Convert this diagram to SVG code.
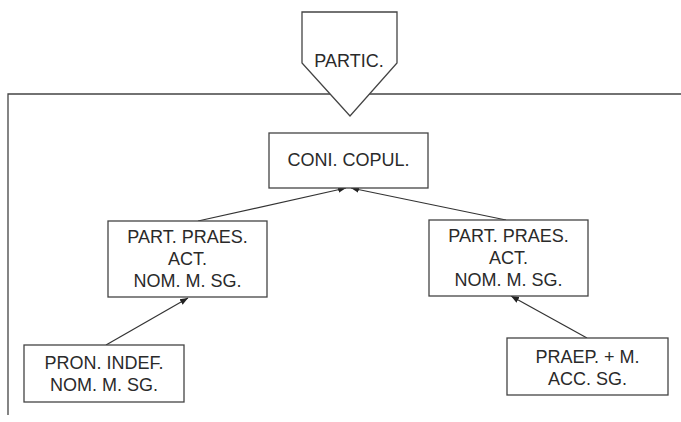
<svg xmlns="http://www.w3.org/2000/svg" width="681" height="422" viewBox="0 0 681 422">
<defs>
<style>
.box{fill:#fff;stroke:#444;stroke-width:1.3}
.frame{fill:none;stroke:#444;stroke-width:1.3}
.t{font-family:"Liberation Sans",Arial,sans-serif;font-size:18px;fill:#2a2a2a;text-anchor:middle}
.c{stroke:#333;stroke-width:1.2;fill:none;marker-end:url(#ah)}
</style>
<marker id="ah" viewBox="0 0 10 10" refX="10" refY="5" markerWidth="8" markerHeight="8" markerUnits="userSpaceOnUse" orient="auto">
<path d="M0,1 L10,5 L0,9 z" fill="#222"/>
</marker>
</defs>
<rect width="681" height="422" fill="#fff"/>
<g id="frame">
<path class="frame" d="M8,415 V94 H681"/>
</g>
<g id="partic">
<path class="box" d="M302,12 H397 V63 L350,116 L302,63 Z"/>
<text class="t" x="349" y="67">PARTIC.</text>
</g>
<g id="connectors">
<line class="c" x1="198" y1="221" x2="346" y2="188"/>
<line class="c" x1="506" y1="220" x2="351" y2="188"/>
<line class="c" x1="106" y1="345" x2="188" y2="298"/>
<line class="c" x1="587" y1="338" x2="511" y2="296"/>
</g>
<g id="coni">
<rect class="box" x="269" y="133" width="159" height="55"/>
<text class="t" x="348.5" y="166">CONI. COPUL.</text>
</g>
<g id="part-left">
<rect class="box" x="108" y="221" width="159" height="76"/>
<text class="t" x="187.5" y="243">PART. PRAES.</text>
<text class="t" x="187.5" y="265">ACT.</text>
<text class="t" x="187.5" y="287">NOM. M. SG.</text>
</g>
<g id="part-right">
<rect class="box" x="429" y="220" width="159" height="76"/>
<text class="t" x="508.5" y="242">PART. PRAES.</text>
<text class="t" x="508.5" y="264">ACT.</text>
<text class="t" x="508.5" y="286">NOM. M. SG.</text>
</g>
<g id="pron">
<rect class="box" x="24" y="345" width="160" height="57"/>
<text class="t" x="104" y="369">PRON. INDEF.</text>
<text class="t" x="104" y="391">NOM. M. SG.</text>
</g>
<g id="praep">
<rect class="box" x="507" y="338" width="161" height="57"/>
<text class="t" x="587.5" y="363">PRAEP. + M.</text>
<text class="t" x="587.5" y="385">ACC. SG.</text>
</g>
</svg>
